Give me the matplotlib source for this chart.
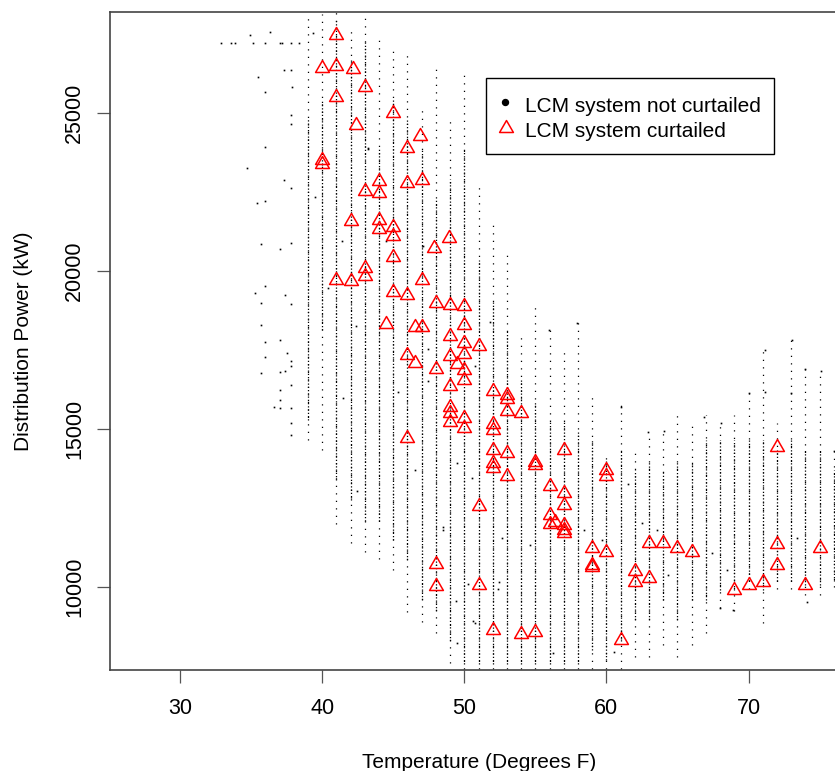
import matplotlib
matplotlib.use("Agg")
import matplotlib.pyplot as plt
from matplotlib.path import Path
from matplotlib.patches import Rectangle
from matplotlib.lines import Line2D

plt.rcParams['font.family'] = ['Liberation Sans', 'DejaVu Sans']

# hourly readings, one dotted column per whole degree (kW extent of the column,
# then the densely populated part of it)
col_temp = [39, 40, 41, 42, 43, 44, 45, 46, 47, 48, 49, 50, 51, 52, 53, 54, 55, 56, 57,
            58, 59, 60, 61, 62, 63, 64, 65, 66, 67, 68, 69, 70, 71, 72, 73, 74, 75, 76]
col_top = [28150, 28150, 28250, 27600, 28150, 27450, 27050, 27000, 25200, 26400, 24900,
           26400, 22650, 21550, 20550, 18050, 18850, 18200, 17600, 18400, 16100, 14250,
           15800, 14250, 14900, 14950, 15450, 15100, 15450, 15250, 15450, 16150, 17550,
           15200, 17850, 16950, 16850, 14300]
col_bot = [14650, 14350, 12000, 11400, 11100, 10900, 10550, 9200, 8900, 8550, 7600,
           7400, 7400, 7400, 7400, 7400, 7400, 7400, 7400, 7400, 7400, 7400,
           7400, 7800, 7800, 8150, 7800, 8150, 8550, 9350, 9250, 9950, 8850,
           9950, 9950, 9750, 9750, 10000]
core_top = [24800, 25400, 27950, 26700, 27300, 23850, 25400, 24800, 23850, 22250, 22900,
            23850, 20350, 19100, 18150, 16550, 15900, 15300, 15300, 14950, 14650, 14000,
            14350, 13700, 14000, 13700, 14000, 14000, 14650, 14650, 14650, 14650, 14650,
            14350, 14650, 14350, 14350, 13700]
core_bot = [15300, 18150, 13400, 12750, 12100, 12100, 11500, 10850, 9600, 9250, 8300,
            7550, 7550, 7550, 7550, 7550, 7550, 7550, 7550, 7550, 8000, 7700,
            8300, 8950, 8950, 9600, 8950, 9600, 9600, 9900, 9900, 10200, 9900,
            10200, 10200, 10050, 10050, 10200]

# isolated readings away from the columns
loose_temp = [32.9, 33.6, 33.9, 35.1, 36.0, 37.0, 37.2, 37.8, 38.4,
              34.9, 36.3, 35.5, 37.3, 37.8, 36.0, 37.9, 37.8, 37.8, 36.0, 34.7,
              37.3, 37.8, 35.4, 36.0, 35.7, 37.0, 37.8, 35.3, 36.0, 37.4,
              35.7, 37.8, 35.7, 36.0, 37.0, 37.5, 36.0, 37.8, 37.8, 35.7,
              37.0, 37.4, 37.8, 37.0, 36.6, 37.0, 37.8, 37.0, 37.8, 37.8,
              39.37, 39.49, 40.42, 41.36, 41.48, 42.37, 42.42, 43.24,
              47.12, 47.47, 50.72, 51.83, 55.95, 57.95, 71.13, 73.05, 73.95, 75.08,
              76.0, 61.0, 62.96, 64.02, 66.84, 68.06, 70.02, 71.17, 73.01,
              49.46, 50.51, 48.47, 49.41, 49.46, 50.75, 52.62, 52.46, 54.62, 56.26,
              58.42, 59.66, 60.53, 61.53, 62.48, 63.53, 64.35, 67.40, 68.50, 73.38,
              74.09, 68.92, 67.99,
              43.24, 44.46, 45.35, 46.52, 47.46, 48.52, 50.27, 52.39, 50.63]
loose_kw = [27220, 27220, 27220, 27220, 27220, 27220, 27220, 27220, 27220,
            27480, 27570, 26140, 26380, 26380, 25670, 25820, 24930, 24660, 23940, 23270,
            22890, 22630, 22160, 22220, 20860, 20710, 20880, 19300, 19540, 19240,
            19000, 18970, 18300, 17750, 17820, 17420, 17280, 17150, 17010, 16770,
            16810, 16850, 16380, 16250, 15710, 15650, 15650, 15910, 15180, 14800,
            27520, 22360, 19470, 20950, 15980, 18260, 13030, 23900,
            20790, 17540, 17010, 18390, 18140, 18360, 17510, 17830, 16910, 16830,
            14290, 15710, 14900, 14930, 15390, 15180, 16130, 16170, 16130,
            13930, 13440, 11800, 9570, 8240, 8870, 11560, 10170, 11330, 7900,
            11800, 11490, 7950, 13250, 12020, 11800, 10380, 11070, 10540, 11540,
            9540, 9270, 9330,
            23860, 20950, 16180, 13700, 16520, 11890, 10080, 9940, 8930]

# hours when the LCM system was curtailed
curt_temp = [41, 40, 41, 42.2, 43, 41, 45, 42.4, 46.9, 46,
             40, 40, 44, 46, 47, 43, 44, 44, 42, 44,
             45, 45, 48.9, 47.9, 45, 43, 43, 41, 42, 47,
             45, 46, 48, 49, 50, 44.5, 46.5, 47, 50, 49,
             50, 51, 50, 46, 49, 46.5, 49.5, 50, 48, 50,
             49, 52, 53, 53, 49, 53, 54, 49, 50, 49,
             52, 50, 52, 46, 52, 53, 57, 72, 52, 52,
             55, 55, 60, 60, 53, 56, 57, 57, 51, 56,
             56.4, 56, 57, 57, 57, 59, 60, 63, 64, 65,
             66, 72, 75, 72, 59, 59, 62, 62, 63, 48,
             48, 51, 69, 70, 71, 74, 52, 54, 55, 61]
curt_kw = [27470, 26430, 26490, 26400, 25830, 25510, 25000, 24620, 24270, 23890,
           23520, 23390, 22850, 22790, 22880, 22530, 22470, 21620, 21580, 21330,
           21390, 21110, 21050, 20730, 20450, 20100, 19840, 19720, 19690, 19720,
           19340, 19240, 18990, 18930, 18890, 18320, 18230, 18230, 18290, 17940,
           17720, 17630, 17370, 17340, 17310, 17090, 17060, 16870, 16900, 16550,
           16360, 16200, 16080, 15950, 15700, 15570, 15510, 15510, 15350, 15220,
           15160, 15030, 14970, 14720, 14340, 14240, 14340, 14430, 13930, 13770,
           13960, 13860, 13700, 13510, 13510, 13200, 12980, 12600, 12560, 12280,
           12060, 11990, 11960, 11800, 11710, 11230, 11110, 11390, 11390, 11230,
           11110, 11360, 11230, 10700, 10700, 10630, 10510, 10160, 10290, 10730,
           10030, 10060, 9900, 10060, 10160, 10060, 8640, 8510, 8580, 8320]

W, H = 835, 771
fig = plt.figure(figsize=(W / 100, H / 100), dpi=100)


def fx(px):
    return px / W


def fy(py):
    return 1 - py / H


ax = fig.add_axes([fx(110), fy(670), (848 - 110) / W, (670 - 12) / H])

# open triangle, same shape as R's pch = 2
tri = Path([(-1, -0.5774), (1, -0.5774), (0, 1.1547), (-1, -0.5774)],
           [Path.MOVETO, Path.LINETO, Path.LINETO, Path.CLOSEPOLY])

ax.vlines(col_temp, col_bot, col_top, colors='black', linewidth=0.9,
          linestyles=[(0, (1, 5))])
ax.vlines(col_temp, core_bot, core_top, colors='black', linewidth=0.9,
          linestyles=[(0, (1, 1.6))])
ax.plot(loose_temp, loose_kw, linestyle='none', marker='s', ms=1.2,
        mew=0, color='black')
ax.plot(curt_temp, curt_kw, linestyle='none', marker=tri, ms=11.5,
        mfc='none', mec='red', mew=1.1, zorder=5)

ax.set_xlim(25.07, 77.0)
ax.set_ylim(7373, 28200)
ax.set_xticks([30, 40, 50, 60, 70])
ax.set_yticks([10000, 15000, 20000, 25000])
ax.tick_params(direction='out', length=9.4, width=0.9, color='#555555',
               labelsize=15.5, labelcolor='black')
ax.tick_params(axis='x', pad=10.5)
ax.tick_params(axis='y', pad=8.5, labelrotation=90)
plt.setp(ax.get_yticklabels(), va='center')
for s in ax.spines.values():
    s.set_color('#444444')
    s.set_linewidth(1.2)

ax.set_xlabel('Temperature (Degrees F)', fontsize=15, va='baseline')
ax.xaxis.set_label_coords(fx(479), fy(768), transform=fig.transFigure)
ax.set_ylabel('Distribution Power (kW)', fontsize=15)
ax.yaxis.set_label_coords(fx(33), fy(341), transform=fig.transFigure)

# legend box
fig.add_artist(Rectangle((fx(486.5), fy(154.3)), (774 - 486.5) / W, (154.3 - 77.7) / H,
                         transform=fig.transFigure, facecolor='white',
                         edgecolor='black', linewidth=1.0, zorder=10))
fig.add_artist(Line2D([fx(505)], [fy(102)], marker='o', ms=4.3, color='black',
                      linestyle='none', transform=fig.transFigure, zorder=11))
fig.add_artist(Line2D([fx(506)], [fy(128)], marker=tri, ms=11.5, mfc='none', mec='red',
                      mew=1.1, linestyle='none', transform=fig.transFigure, zorder=11))
fig.text(fx(525), fy(112.5), 'LCM system not curtailed', fontsize=15,
         va='baseline', zorder=11)
fig.text(fx(525), fy(137), 'LCM system curtailed', fontsize=15,
         va='baseline', zorder=11)

fig.savefig('out.png', dpi=100)
